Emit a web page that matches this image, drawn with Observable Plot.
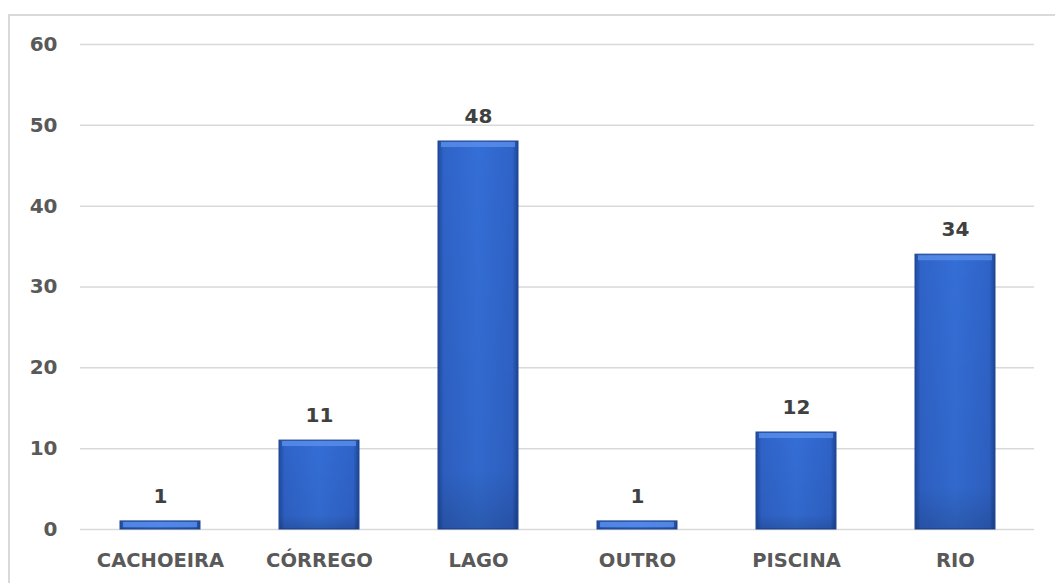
<!DOCTYPE html>
<html>
<head>
<meta charset="utf-8">
<script src="https://cdn.jsdelivr.net/npm/d3@7"></script>
<script src="https://cdn.jsdelivr.net/npm/@observablehq/plot@0.6"></script>
<style>
  html, body { margin: 0; padding: 0; background: #fff; overflow: hidden; }
  #wrap { position: relative; width: 1055px; height: 583px; }
  #frame { position: absolute; left: 8px; top: 14px; width: 1100px; height: 700px;
           border-left: 2px solid #d9d9d9; border-top: 2px solid #d9d9d9; box-sizing: border-box; }
  #chart { position: absolute; left: 0; top: 0; }
</style>
</head>
<body>
<div id="wrap"><div id="frame"></div><div id="chart"></div></div>
<script>
const categories = ["CACHOEIRA", "CÓRREGO", "LAGO", "OUTRO", "PISCINA", "RIO"];
const values = [1, 11, 48, 1, 12, 34];
const yTicks = [0, 10, 20, 30, 40, 50, 60];

const data = categories.map((c, i) => ({category: c, value: values[i]}));

const font = "'DejaVu Sans', Verdana, sans-serif";

const chart = Plot.plot({
  width: 1055,
  height: 583,
  marginLeft: 80,
  marginRight: 21,
  marginTop: 44,
  marginBottom: 54,
  style: {fontFamily: font, background: "transparent", overflow: "visible"},
  x: {domain: categories, paddingInner: 0.5, paddingOuter: 0.25, label: null},
  y: {domain: [0, 60], ticks: yTicks, label: null},
  marks: [
    Plot.gridY(yTicks, {stroke: "#d9d9d9", strokeOpacity: 1, strokeWidth: 1.5}),
    Plot.barY(data, {x: "category", y: "value", fill: "url(#barGrad)", stroke: "#22468f", strokeWidth: 1}),
    Plot.barY(data, {x: "category", y: "value", fill: "url(#barShade)", insetLeft: 1, insetRight: 1}),
    Plot.tickY(data, {x: "category", y: "value", stroke: "#5a8fea", strokeOpacity: 0.8, strokeWidth: 5, dy: 3, insetLeft: 3, insetRight: 3}),
    Plot.text(data, {x: "category", y: "value", text: d => String(d.value), dy: -25,
      fill: "#404040", fontWeight: "bold", fontSize: 20}),
    Plot.axisX({tickSize: 0, tickPadding: 24, fontSize: 19.5, fontWeight: "bold", fill: "#595959", label: null}),
    Plot.axisY(yTicks, {tickSize: 0, tickPadding: 23, fontSize: 20, fontWeight: "bold", fill: "#595959", label: null})
  ]
});

// gradients for the bevelled bars
const ns = "http://www.w3.org/2000/svg";
const defs = document.createElementNS(ns, "defs");
defs.innerHTML = `
  <linearGradient id="barGrad" x1="0" y1="0" x2="1" y2="0">
    <stop offset="0" stop-color="#1f4aa0"/>
    <stop offset="0.07" stop-color="#2f63c8"/>
    <stop offset="0.5" stop-color="#346ed6"/>
    <stop offset="0.93" stop-color="#2f63c8"/>
    <stop offset="1" stop-color="#1c4596"/>
  </linearGradient>
  <linearGradient id="barShade" x1="0" y1="0" x2="0" y2="1">
    <stop offset="0" stop-color="#000" stop-opacity="0"/>
    <stop offset="0.85" stop-color="#000" stop-opacity="0.05"/>
    <stop offset="1" stop-color="#000" stop-opacity="0.18"/>
  </linearGradient>`;
chart.insertBefore(defs, chart.firstChild);

document.getElementById("chart").appendChild(chart);
</script>
</body>
</html>
